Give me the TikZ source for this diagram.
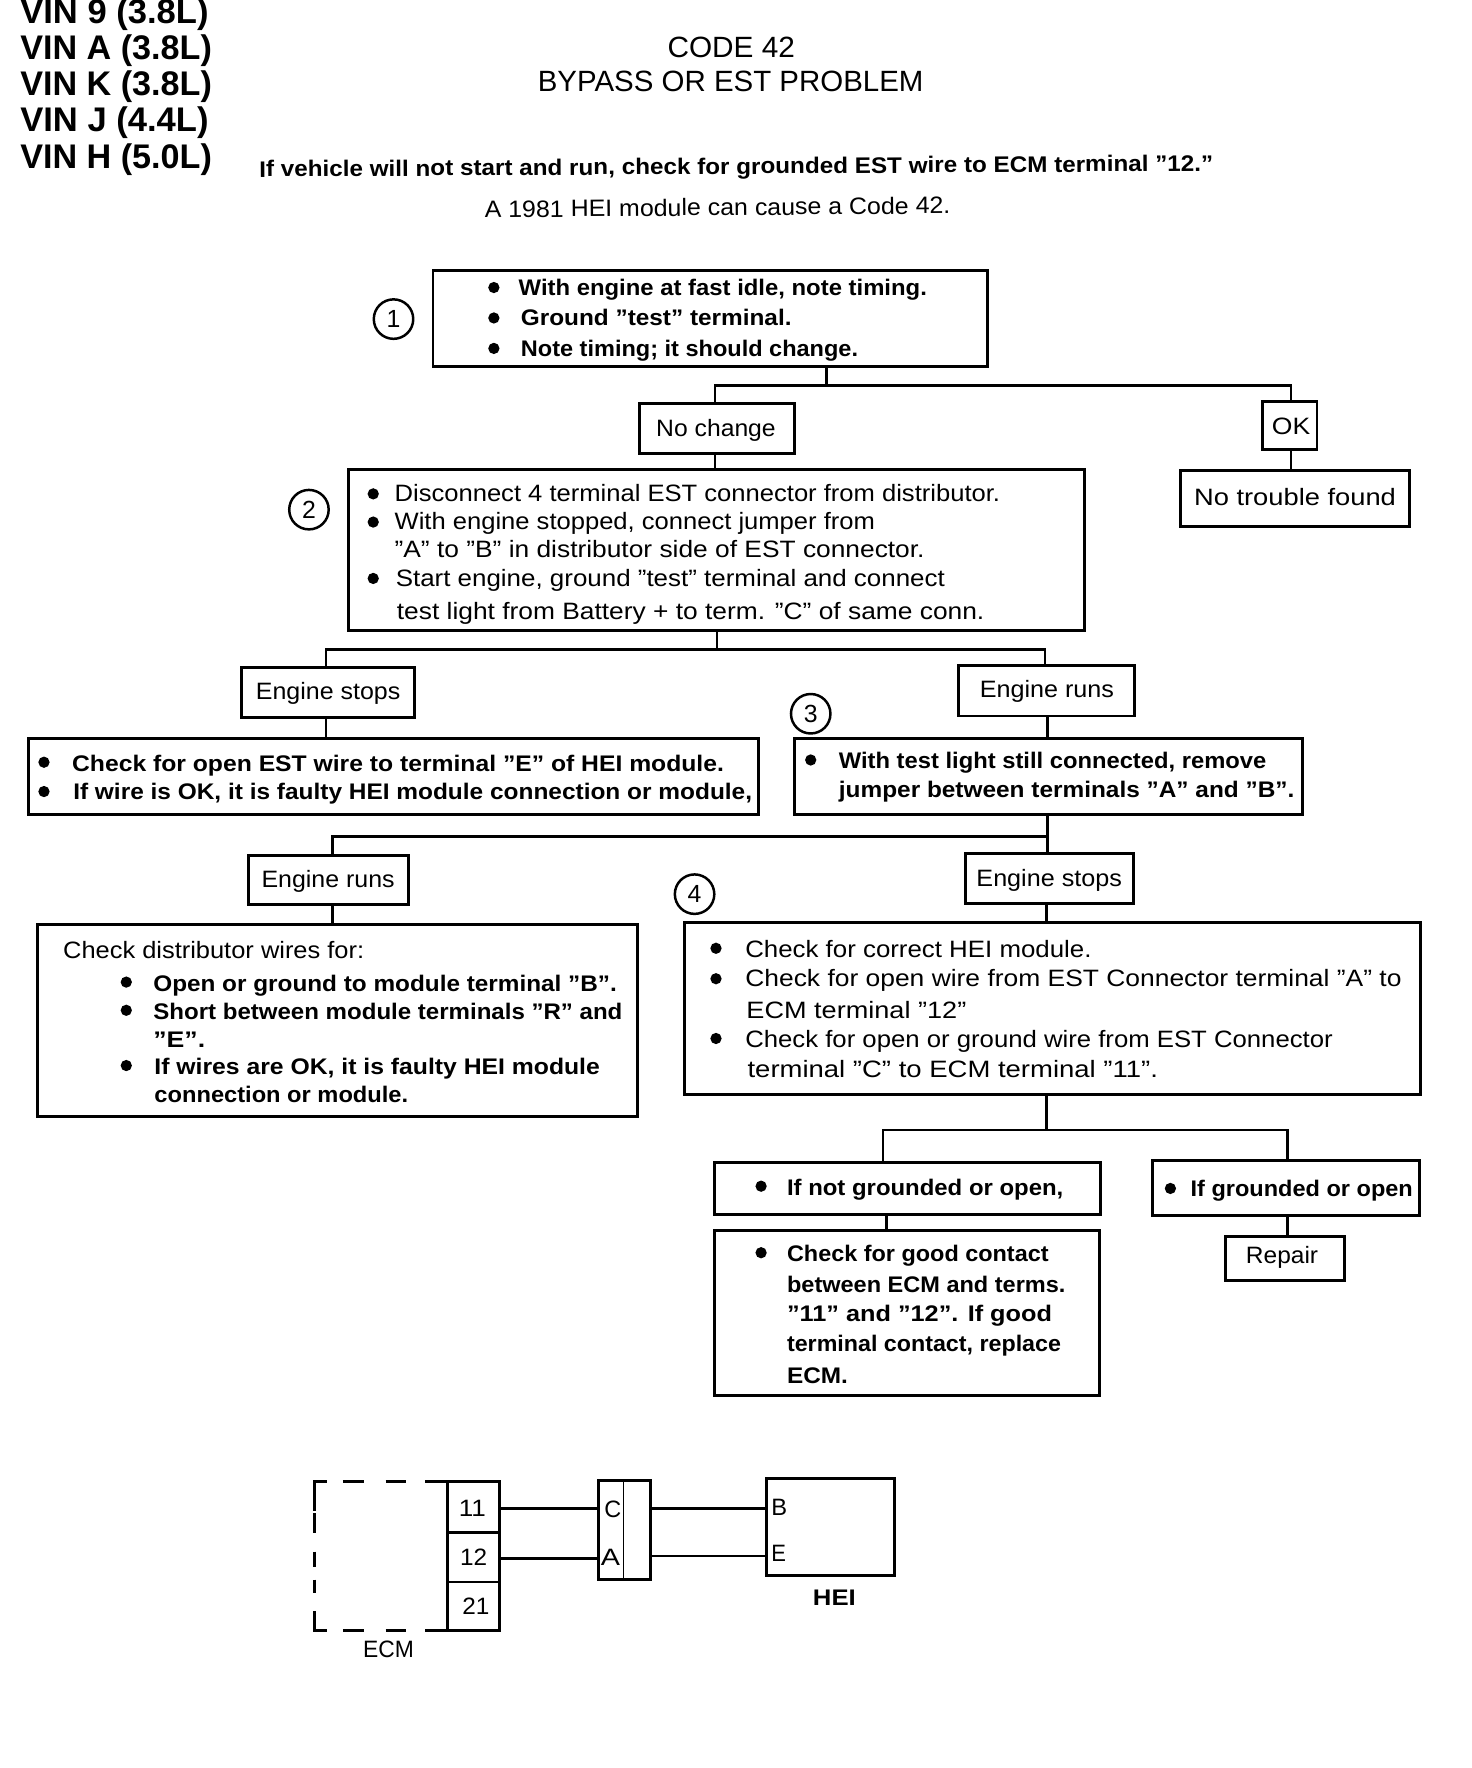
\documentclass[tikz,border=0pt]{standalone}
\usepackage{fontspec}
\usepackage{graphicx}
\setmainfont{Liberation Sans}
\newcount\txtno
\newcommand{\fsz}[1]{\fontsize{#1}{#1}\selectfont}
\tikzset{
  x=1pt,y=-1pt,
  boxs/.style={draw=black,line width=2.6pt,inner sep=0pt,outer sep=0pt,fill=none},
  txt/.style={anchor=base west,inner sep=0pt,outer sep=0pt,text=black},
  reg/.style={txt,font=\fsz{21}},
  bld/.style={txt,font=\fsz{20}\bfseries},
  vin/.style={txt,font=\fsz{30.3}\bfseries},
  ttl/.style={txt,font=\fsz{26}},
  bul/.style={circle,fill=black,inner sep=0pt,minimum size=10pt},
  num/.style={circle,draw=black,line width=2.2pt,minimum size=35pt,inner sep=0pt,font=\fsz{22}},
  wire/.style={draw=black,line width=2.2pt},
}
% box by corners
\newcommand{\bx}[5]{%
  \pgfmathsetlengthmacro\bw{#4-#2}\pgfmathsetlengthmacro\bh{#5-#3}%
  \node[boxs,minimum width=\bw,minimum height=\bh] (#1) at ({(#2+#4)/2},{(#3+#5)/2}) {};}
% text line: style, x1, x2, baseline, text
\newcommand{\tl}[5][reg]{%
  \global\advance\txtno by 1
  \pgfmathsetlengthmacro\tw{#3-#2}%
  \node[#1] (t\the\txtno) at (#2,#4) {\resizebox{\tw}{\height}{#5}};}
\newcommand{\bl}[2]{%
  \global\advance\txtno by 1
  \node[bul] (t\the\txtno) at (#1,#2) {};}
\begin{document}
\begin{tikzpicture}
\useasboundingbox (0,0) rectangle (1305.4,1568);
% header
\tl[vin]{18}{185}{21}{VIN 9 (3.8L)}
\tl[vin]{18}{188}{53}{VIN A (3.8L)}
\tl[vin]{18}{188}{85}{VIN K (3.8L)}
\tl[vin]{18}{185}{117}{VIN J (4.4L)}
\tl[vin]{18}{188}{149}{VIN H (5.0L)}
\tl[ttl]{592}{705}{51}{CODE 42}
\tl[ttl]{477}{819}{81}{BYPASS OR EST PROBLEM}
\tl[{bld,rotate=0.35}]{230}{1076}{157}{If vehicle will not start and run, check for grounded EST wire to ECM terminal "12."}
\tl[{reg,rotate=0.5}]{430}{843}{193}{A 1981 HEI module can cause a Code 42.}
% boxes
\bx{bone}{384}{240}{876}{325}
\bx{nochange}{567}{358}{705}{402}
\bx{ok}{1120}{356}{1168}{399}
\bx{btwo}{309}{416}{962}{559}
\bx{notrouble}{1047}{417}{1250}{467}
\bx{estops}{214}{592}{368}{636}
\bx{eruns}{850}{590}{1006}{635}
\bx{bopen}{25}{655}{673}{722}
\bx{bthree}{705}{655}{1155}{722}
\bx{eruns2}{220}{759}{362}{802}
\bx{estops2}{856}{757}{1005}{801}
\bx{bdist}{33}{820}{565}{990}
\bx{bfour}{607}{818}{1260}{971}
\bx{notgnd}{634}{1031}{976}{1077}
\bx{gnd}{1022}{1029}{1259}{1078}
\bx{bgood}{634}{1091}{975}{1238}
\bx{repair}{1087}{1097}{1192}{1136}
% step numbers
\node[num] (n1) at (349,283) {1};
\node[num] (n2) at (274,452) {2};
\node[num] (n3) at (719,633) {3};
\node[num] (n4) at (616,793) {4};
% junctions
\coordinate (j1) at (733,342);
\coordinate (j2) at (636,576);
\coordinate (j3) at (929,742);
\coordinate (j4) at (928,1002);
\coordinate (a1) at (634,342);
\coordinate (a2) at (1145,342);
\coordinate (a3) at (289,576);
\coordinate (a4) at (927,576);
\coordinate (a5) at (295,742);
\coordinate (a6) at (783,1002);
\coordinate (a7) at (1142,1002);
% connectors
\draw[wire] (j1) -- (j1 |- bone.south);
\draw[wire] (a1 |- nochange.north) -- (a1) -- (a2) -- (a2 |- ok.north);
\draw[wire] (a1 |- nochange.south) -- (a1 |- btwo.north);
\draw[wire] (a2 |- ok.south) -- (a2 |- notrouble.north);
\draw[wire] (j2) -- (j2 |- btwo.south);
\draw[wire] (a3 |- estops.north) -- (a3) -- (a4) -- (a4 |- eruns.north);
\draw[wire] (a3 |- estops.south) -- (a3 |- bopen.north);
\draw[wire] (j3 |- eruns.south) -- (j3 |- bthree.north);
\draw[wire] (j3 |- bthree.south) -- (j3 |- estops2.north);
\draw[wire] (a5 |- eruns2.north) -- (a5) -- (j3);
\draw[wire] (a5 |- eruns2.south) -- (a5 |- bdist.north);
\draw[wire] (j4 |- estops2.south) -- (j4 |- bfour.north);
\draw[wire] (j4 |- bfour.south) -- (j4);
\draw[wire] (a6 |- notgnd.north) -- (a6) -- (a7) -- (a7 |- gnd.north);
\draw[wire] (786,1077) -- (786,1091);
\draw[wire] (a7 |- gnd.south) -- (a7 |- repair.north);
% box 1
\bl{438}{255}\tl[bld]{460}{822}{262}{With engine at fast idle, note timing.}
\bl{438}{282}\tl[bld]{462}{702}{289}{Ground "test" terminal.}
\bl{438}{309}\tl[bld]{462}{761}{316}{Note timing; it should change.}
\tl{582}{688}{387}{No change}
\tl{1128}{1162}{385}{OK}
\tl{1059}{1238}{448}{No trouble found}
% box 2
\bl{331}{438}\tl{350}{887}{445}{Disconnect 4 terminal EST connector from distributor.}
\bl{331}{463}\tl{350}{776}{470}{With engine stopped, connect jumper from}
\tl{350}{820}{494}{"A" to "B" in distributor side of EST connector.}
\bl{331}{513}\tl{351}{838}{520}{Start engine, ground "test" terminal and connect}
\tl{352}{873}{549}{test light from Battery + to term. "C" of same conn.}
\tl{227}{355}{620}{Engine stops}
\tl{869}{988}{619}{Engine runs}
% open wire box
\bl{39}{676}\tl[bld]{64}{642}{684}{Check for open EST wire to terminal "E" of HEI module.}
\bl{39}{702}\tl[bld]{65}{667}{709}{If wire is OK, it is faulty HEI module connection or module,}
% box 3
\bl{719}{674}\tl[bld]{744}{1123}{682}{With test light still connected, remove}
\tl[bld]{744}{1148}{707}{jumper between terminals "A" and "B".}
\tl{232}{350}{787}{Engine runs}
\tl{866}{995}{786}{Engine stops}
% distributor wires box
\tl{56}{323}{850}{Check distributor wires for:}
\bl{112}{871}\tl[bld]{136}{547}{879}{Open or ground to module terminal "B".}
\bl{112}{896}\tl[bld]{136}{552}{904}{Short between module terminals "R" and}
\tl[bld]{136}{182}{929}{"E".}
\bl{112}{945}\tl[bld]{137}{532}{953}{If wires are OK, it is faulty HEI module}
\tl[bld]{137}{362}{978}{connection or module.}
% box 4
\bl{635}{841}\tl{661}{968}{849}{Check for correct HEI module.}
\bl{635}{868}\tl{661}{1243}{875}{Check for open wire from EST Connector terminal "A" to}
\tl{662}{857}{903}{ECM terminal "12"}
\bl{635}{921}\tl{661}{1182}{929}{Check for open or ground wire from EST Connector}
\tl{663}{1027}{956}{terminal "C" to ECM terminal "11".}
% lower boxes
\bl{675}{1052}\tl[bld]{698}{943}{1060}{If not grounded or open,}
\bl{1038}{1054}\tl[bld]{1056}{1253}{1061}{If grounded or open}
\bl{675}{1111}\tl[bld]{698}{930}{1119}{Check for good contact}
\tl[bld]{698}{945}{1146}{between ECM and terms.}
\tl[bld]{698}{933}{1172}{"11" and "12". If good}
\tl[bld]{698}{941}{1199}{terminal contact, replace}
\tl[bld]{698}{752}{1227}{ECM.}
\tl{1105}{1169}{1121}{Repair}
% wiring sketch
\draw[line width=2.8pt,line cap=butt]
  (279,1340) -- (279,1314) -- (290,1314)
  (304,1314) -- (323,1314) (342,1314) -- (360,1314) (377,1314) -- (397,1314)
  (279,1342) -- (279,1360) (279,1376) -- (279,1390) (279,1401) -- (279,1413)
  (279,1429) -- (279,1446) -- (290,1446)
  (304,1446) -- (323,1446) (342,1446) -- (360,1446) (377,1446) -- (397,1446);
\bx{tb}{397}{1314}{443}{1446}
\bx{cn}{531}{1313}{577}{1401}
\bx{hei}{680}{1311}{793}{1397}
\coordinate (d1) at (397,1359);
\coordinate (d2) at (397,1403);
\coordinate (d3) at (553,1313);
\coordinate (w1) at (443,1338);
\coordinate (w2) at (443,1382);
\coordinate (w3) at (577,1338);
\coordinate (w4) at (577,1380);
\draw[wire] (d1) -- (d1 -| tb.east);
\draw[wire] (d2) -- (d2 -| tb.east);
\draw[wire,line width=1.6pt] (d3) -- (d3 |- cn.south);
\draw[wire] (w1) -- (w1 -| cn.west);
\draw[wire] (w2) -- (w2 -| cn.west);
\draw[wire] (w3) -- (w3 -| hei.west);
\draw[wire] (w4) -- (w4 -| hei.west);
\tl{407}{431}{1345}{11}
\tl{408}{432}{1388}{12}
\tl{410}{434}{1432}{21}
\tl{536}{551}{1346}{C}
\tl{533}{550}{1388}{A}
\tl{684}{698}{1344}{B}
\tl{684}{697}{1385}{E}
\tl[bld]{721}{759}{1424}{HEI}
\tl{322}{367}{1470}{ECM}
\end{tikzpicture}
\end{document}
